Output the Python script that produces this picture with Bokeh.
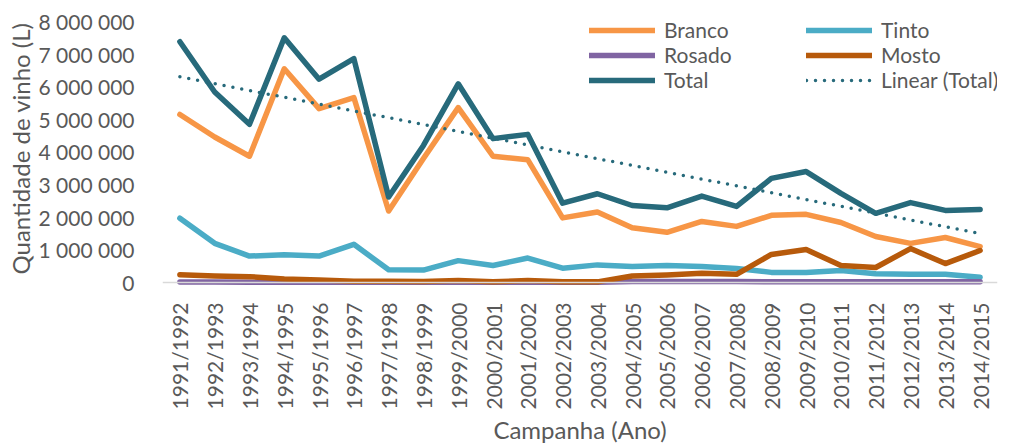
import numpy as np
from bokeh.plotting import figure
from bokeh.models import Legend, LegendItem, Span, Title, FactorRange, Range1d, FixedTicker
from bokeh.embed import file_html
from bokeh.resources import INLINE
from math import pi

campanha = ["1991/1992", "1992/1993", "1993/1994", "1994/1995", "1995/1996", "1996/1997",
            "1997/1998", "1998/1999", "1999/2000", "2000/2001", "2001/2002", "2002/2003",
            "2003/2004", "2004/2005", "2005/2006", "2006/2007", "2007/2008", "2008/2009",
            "2009/2010", "2010/2011", "2011/2012", "2012/2013", "2013/2014", "2014/2015"]
branco = [5150000, 4460000, 3870000, 6550000, 5330000, 5670000, 2190000, 3800000,
          5360000, 3870000, 3760000, 1980000, 2160000, 1680000, 1540000, 1870000,
          1720000, 2060000, 2090000, 1840000, 1410000, 1200000, 1380000, 1100000]
tinto = [1970000, 1200000, 810000, 850000, 810000, 1170000, 390000, 380000,
         670000, 520000, 750000, 440000, 540000, 490000, 520000, 490000,
         430000, 310000, 310000, 370000, 270000, 250000, 250000, 160000]
rosado = [15000, 12000, 10000, 10000, 10000, 8000, 8000, 8000,
          8000, 8000, 10000, 10000, 10000, 30000, 30000, 30000,
          30000, 20000, 20000, 20000, 20000, 20000, 20000, 20000]
mosto = [240000, 200000, 180000, 110000, 80000, 40000, 40000, 30000,
         60000, 20000, 60000, 20000, 20000, 200000, 230000, 280000,
         250000, 860000, 1010000, 520000, 460000, 1040000, 580000, 980000]
total = [7380000, 5840000, 4850000, 7500000, 6230000, 6860000, 2620000, 4200000,
         6090000, 4410000, 4540000, 2430000, 2720000, 2360000, 2290000, 2650000,
         2330000, 3190000, 3400000, 2730000, 2120000, 2450000, 2210000, 2240000]
y_ticks = [0, 1000000, 2000000, 3000000, 4000000, 5000000, 6000000, 7000000, 8000000]

# Linear trend of Total (least squares, as Excel's trendline)
idx = np.arange(len(total))
slope, intercept = np.polyfit(idx, np.array(total, dtype=float), 1)
trend = list(intercept + slope * idx)

FONT = "Lato"
GREY = "#595959"

# frame spans page y 10..286 ; 0 at 282, 8 000 000 at 21  (32.625 px per million)
p = figure(width=1011, height=443, x_range=FactorRange(*campanha, range_padding=0),
           y_range=Range1d(-122600, 8337000), output_backend="svg", toolbar_location=None,
           min_border_left=162, min_border_right=14, min_border_top=10, min_border_bottom=157)
p.outline_line_color = None
p.xgrid.grid_line_color = None
p.ygrid.grid_line_color = None
p.background_fill_color = None
p.border_fill_color = "white"

p.add_layout(Span(location=0, dimension="width", line_color="#D9D9D9", line_width=1.5))

cols = {"Branco": "#F79646", "Tinto": "#4BACC6", "Rosado": "#8064A2",
        "Mosto": "#B75A0B", "Total": "#276A7B"}
r_b = p.line(campanha, branco, line_color=cols["Branco"], line_width=5.5, line_cap="round", line_join="round")
r_t = p.line(campanha, tinto, line_color=cols["Tinto"], line_width=5.5, line_cap="round", line_join="round")
r_r = p.line(campanha, rosado, line_color=cols["Rosado"], line_width=5.5, line_cap="round", line_join="round")
r_m = p.line(campanha, mosto, line_color=cols["Mosto"], line_width=5.5, line_cap="round", line_join="round")
r_tot = p.line(campanha, total, line_color=cols["Total"], line_width=5.5, line_cap="round", line_join="round")
r_lin = p.line(campanha, trend, line_color=cols["Total"], line_width=3.5, line_dash="0 9", line_cap="round")

# Axes
p.yaxis.ticker = FixedTicker(ticks=y_ticks)
p.yaxis.major_label_overrides = {t: f"{t:,}".replace(",", " ") for t in y_ticks}
p.yaxis.axis_line_color = None
p.yaxis.major_tick_line_color = None
p.yaxis.minor_tick_line_color = None
p.yaxis.major_label_standoff = 22
p.yaxis.major_label_text_font = FONT
p.yaxis.major_label_text_font_size = "21px"
p.yaxis.major_label_text_color = GREY
p.yaxis.axis_label = "Quantidade de vinho (L)"
p.yaxis.axis_label_text_font = FONT
p.yaxis.axis_label_text_font_size = "24px"
p.yaxis.axis_label_text_font_style = "normal"
p.yaxis.axis_label_text_color = GREY
p.yaxis.axis_label_standoff = 0

p.xaxis.axis_line_color = None
p.xaxis.major_tick_line_color = None
p.xaxis.minor_tick_line_color = None
p.xaxis.major_label_orientation = pi / 2
p.xaxis.major_label_standoff = 10
p.xaxis.major_label_text_font = FONT
p.xaxis.major_label_text_font_size = "21px"
p.xaxis.major_label_text_color = GREY

p.add_layout(Title(text="Campanha (Ano)", align="center", offset=-32, standoff=0,
                   text_font=FONT, text_font_size="24px", text_font_style="normal",
                   text_color=GREY), "below")

def mk_legend(items, x, y):
    lg = Legend(items=items, location=(x, y), orientation="vertical",
                border_line_color=None, background_fill_alpha=0, padding=0, margin=0,
                spacing=0, glyph_width=66, glyph_height=24, label_height=24,
                label_standoff=9, label_text_font=FONT, label_text_font_size="21px",
                label_text_color=GREY)
    return lg

p.add_layout(mk_legend([LegendItem(label="Branco", renderers=[r_b]),
                        LegendItem(label="Rosado", renderers=[r_r]),
                        LegendItem(label="Total", renderers=[r_tot])], 427, 194))
p.add_layout(mk_legend([LegendItem(label="Tinto", renderers=[r_t]),
                        LegendItem(label="Mosto", renderers=[r_m]),
                        LegendItem(label="Linear (Total)", renderers=[r_lin])], 644, 194))

open("out.html", "w").write(file_html(p, INLINE))
